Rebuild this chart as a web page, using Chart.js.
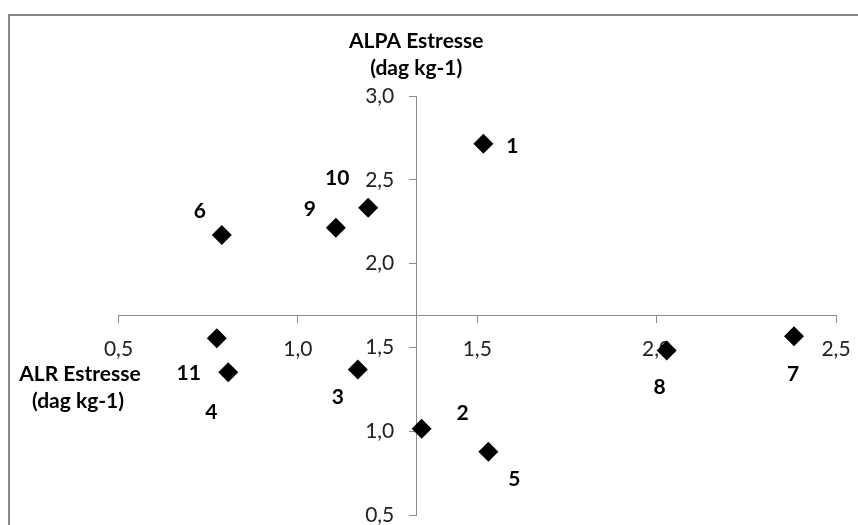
<!DOCTYPE html>
<html><head><meta charset="utf-8">
<script src="https://cdn.jsdelivr.net/npm/chart.js@4/dist/chart.umd.min.js"></script>
<style>html,body{margin:0;padding:0;background:#fff;overflow:hidden}canvas{display:block}</style>
</head><body>
<canvas id="c" width="858" height="525"></canvas>
<script>
const pointLabels = ['1','2','3','4','5','6','7','8','9','10','11'];
const alrValues  = [1.517, 1.345, 1.167, 0.806, 1.531, 0.788, 2.383, 2.028, 1.106, 1.196, 0.774];
const alpaValues = [2.715, 1.015, 1.368, 1.352, 0.877, 2.170, 1.566, 1.481, 2.214, 2.333, 1.554];
const xTicks = [0.5, 1.0, 1.5, 2.0, 2.5];
const yTicks = [0.5, 1.0, 1.5, 2.0, 2.5, 3.0];
const xTitle = ['ALR Estresse', '(dag kg-1)'];
const yTitle = ['ALPA Estresse', '(dag kg-1)'];
const xCross = 1.33;   // x value where the vertical axis sits
const yCross = 1.69;   // y value where the horizontal axis sits
// label placement: pixel offsets from each point
const labelOffsets = [[29,2],[41,-15],[-20,28],[-17,40],[26,27],[-22,-24],[-1,38],[-7,37],[-26,-18],[-31,-30],[-28,35]];

const FONT = 'Lato, "Noto Sans", sans-serif';
const fmt = v => Number(v).toFixed(1).replace('.', ',');

const frame = {
  id: 'frame',
  beforeDraw(chart) {
    const c = chart.ctx;
    c.save();
    c.fillStyle = '#fff';
    c.fillRect(0, 0, chart.width, chart.height);
    c.strokeStyle = '#878787';
    c.lineWidth = 2;
    c.beginPath();
    c.moveTo(9, chart.height);
    c.lineTo(9, 15);
    c.lineTo(chart.width, 15);
    c.stroke();
    c.restore();
  }
};

const texts = {
  id: 'texts',
  afterDatasetsDraw(chart) {
    const c = chart.ctx;
    const xs = chart.scales.x, ys = chart.scales.y;
    const axX = xs.getPixelForValue(xCross);
    const axY = ys.getPixelForValue(yCross);
    c.save();
    // vertical-axis tick labels, left of the tick marks
    c.fillStyle = '#222';
    c.font = '21px ' + FONT;
    c.textAlign = 'right';
    c.textBaseline = 'middle';
    ys.ticks.forEach(t => {
      c.fillText(fmt(t.value), axX - 22, ys.getPixelForValue(t.value));
    });
    c.fillStyle = '#000';
    c.font = 'bold 21px ' + FONT;
    c.textAlign = 'center';
    const meta = chart.getDatasetMeta(0);
    meta.data.forEach((pt, i) => {
      const [dx, dy] = labelOffsets[i];
      c.fillText(pointLabels[i], pt.x + dx, pt.y + dy);
    });
    // vertical axis title above the axis
    c.fillText(yTitle[0], axX, chart.chartArea.top - 55);
    c.fillText(yTitle[1], axX, chart.chartArea.top - 28);
    // horizontal axis title at the left, below the axis
    c.fillText(xTitle[0], 80, axY + 59);
    c.fillText(xTitle[1], 78, axY + 86);
    c.restore();
  }
};

function zeroFit(scale) {
  if (scale.isHorizontal()) scale.height = 0; else scale.width = 0;
  scale.paddingTop = scale.paddingBottom = scale.paddingLeft = scale.paddingRight = 0;
}

new Chart(document.getElementById('c'), {
  type: 'scatter',
  data: {
    datasets: [{
      data: alrValues.map((x, i) => ({x, y: alpaValues[i]})),
      pointStyle: 'rectRot',
      pointRadius: 10,
      pointHoverRadius: 10,
      backgroundColor: '#000',
      borderColor: '#000',
      borderWidth: 0
    }]
  },
  options: {
    responsive: false,
    animation: false,
    events: [],
    layout: { padding: { left: 118.5, right: 22, top: 96, bottom: 8.3 } },
    plugins: { legend: { display: false }, tooltip: { enabled: false } },
    scales: {
      x: {
        type: 'linear', min: 0.5, max: 2.5,
        position: { y: yCross },
        afterBuildTicks: s => { s.ticks = xTicks.map(v => ({value: v})); },
        afterFit: zeroFit,
        grid: { drawOnChartArea: false, drawTicks: true, tickLength: 7, color: '#8a8a8a', lineWidth: 1 },
        border: { display: true, color: '#8a8a8a', width: 1 },
        ticks: { callback: fmt, color: '#222', font: { family: FONT, size: 21 }, padding: 14, maxRotation: 0, autoSkip: false }
      },
      y: {
        type: 'linear', min: 0.5, max: 3.0,
        position: { x: xCross },
        afterBuildTicks: s => { s.ticks = yTicks.map(v => ({value: v})); },
        afterFit: zeroFit,
        grid: { drawOnChartArea: false, drawTicks: true, tickLength: 7, color: '#8a8a8a', lineWidth: 1 },
        border: { display: true, color: '#8a8a8a', width: 1 },
        ticks: { display: false, callback: fmt, font: { family: FONT, size: 21 } }
      }
    }
  },
  plugins: [frame, texts]
});
</script>
</body></html>
